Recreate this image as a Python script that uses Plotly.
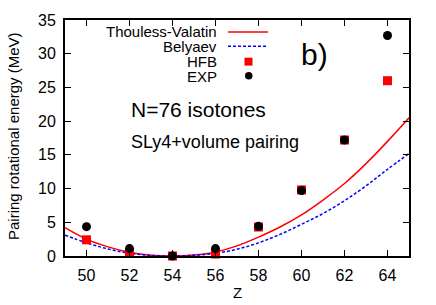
import plotly.graph_objects as go

# Data
z_curve = [49, 50, 51, 52, 53, 54, 55, 56, 57, 58, 59, 60, 61, 62, 63, 64, 65]
tv_vals = [4.2, 2.5, 1.35, 0.55, 0.12, 0.0, 0.15, 0.6, 1.5, 2.8, 4.3, 6.1, 8.3, 10.75, 13.7, 17.0, 20.5]
bel_vals = [3.1, 1.95, 1.05, 0.4, 0.08, 0.0, 0.1, 0.4, 1.0, 1.95, 3.2, 4.7, 6.3, 8.2, 10.4, 12.85, 15.2]

z_points = [50, 52, 54, 56, 58, 60, 62, 64]
hfb_vals = [2.4, 0.5, 0.0, 0.3, 4.3, 9.8, 17.2, 26.0]
exp_vals = [4.35, 1.1, 0.0, 1.1, 4.4, 9.7, 17.2, 32.7]

x_ticks = [50, 52, 54, 56, 58, 60, 62, 64]
y_ticks = [0, 5, 10, 15, 20, 25, 30, 35]

FONT = "Liberation Sans, Arial, sans-serif"

fig = go.Figure()
fig.add_trace(go.Scatter(x=z_curve, y=tv_vals, mode="lines", line=dict(color="#ff0000", width=1.5, shape="spline"),
                         name="Thouless-Valatin", showlegend=False))
fig.add_trace(go.Scatter(x=z_curve, y=bel_vals, mode="lines",
                         line=dict(color="#0000ff", width=1.5, dash="3px,2px", shape="spline"),
                         name="Belyaev", showlegend=False))
fig.add_trace(go.Scatter(x=z_points, y=hfb_vals, mode="markers", cliponaxis=False,
                         marker=dict(symbol="square", color="#ff0000", size=9), name="HFB", showlegend=False))
fig.add_trace(go.Scatter(x=z_points, y=exp_vals, mode="markers", cliponaxis=False,
                         marker=dict(symbol="circle", color="#000000", size=9), name="EXP", showlegend=False))

# Plot area in window pixels: x 65..409, y 18..256 (body margin removed below)
W, H = 436, 305
PL, PT, PW, PH = 65, 18, 344, 238
L, T = PL, PT
R, B = W - L - PW, H - T - PH

def ax(x):
    return (x - PL) / PW

def ay(y):
    return 1 - (y - PT) / PH

# Manual gnuplot-style legend (text right-aligned, sample to the right)
legend_rows = [("Thouless-Valatin", 29.5), ("Belyaev", 44.5), ("HFB", 59.5), ("EXP", 74.5)]
for text, yy in legend_rows:
    fig.add_annotation(x=ax(219), y=ay(yy), xref="paper", yref="paper", text=text, showarrow=False,
                       xanchor="right", yanchor="middle", font=dict(family=FONT, size=15, color="black"))
fig.add_shape(type="line", xref="paper", yref="paper", x0=ax(228), x1=ax(268), y0=ay(30), y1=ay(30),
              line=dict(color="#ff0000", width=1.5))
fig.add_shape(type="line", xref="paper", yref="paper", x0=ax(228), x1=ax(268), y0=ay(44.5), y1=ay(44.5),
              line=dict(color="#0000ff", width=1.5, dash="3px,2px"))
fig.add_shape(type="rect", xref="paper", yref="paper", x0=ax(244.5), x1=ax(252.5), y0=ay(64), y1=ay(56),
              line=dict(width=0), fillcolor="#ff0000")
fig.add_shape(type="circle", xref="paper", yref="paper", x0=ax(245), x1=ax(252.5), y0=ay(78), y1=ay(70.5),
              line=dict(width=0), fillcolor="#000000")

fig.add_annotation(x=ax(314), y=ay(53), xref="paper", yref="paper", text="b)", showarrow=False,
                   xanchor="center", yanchor="middle", font=dict(family=FONT, size=30, color="black"))
fig.add_annotation(x=ax(129), y=ay(108), xref="paper", yref="paper", text="N=76 isotones", showarrow=False,
                   xanchor="left", yanchor="middle", font=dict(family=FONT, size=21, color="black"))
fig.add_annotation(x=ax(129), y=ay(141), xref="paper", yref="paper", text="SLy4+volume pairing", showarrow=False,
                   xanchor="left", yanchor="middle", font=dict(family=FONT, size=18, color="black"))

# Axis titles
fig.add_annotation(x=ax(13), y=ay(135), xref="paper", yref="paper", text="Pairing rotational energy (MeV)",
                   showarrow=False, textangle=-90, xanchor="center", yanchor="middle",
                   font=dict(family=FONT, size=15, color="black"))
fig.add_annotation(x=ax(237), y=ay(293), xref="paper", yref="paper", text="Z",
                   showarrow=False, xanchor="center", yanchor="middle",
                   font=dict(family=FONT, size=15, color="black"))

axis_common = dict(showline=True, linecolor="black", linewidth=2, mirror="ticks", ticks="inside",
                   ticklen=6, tickwidth=1, tickcolor="black", showgrid=False, zeroline=False,
                   tickfont=dict(family=FONT, size=16, color="black"), ticklabelstandoff=4)
fig.update_xaxes(range=[49, 65], tickvals=x_ticks, ticktext=[str(v) for v in x_ticks], **axis_common)
fig.update_yaxes(range=[0, 35], tickvals=y_ticks, ticktext=[str(v) for v in y_ticks], **axis_common)

fig.update_layout(width=W, height=H, margin=dict(l=L, r=R, t=T, b=B, pad=0),
                  paper_bgcolor="white", plot_bgcolor="white", showlegend=False,
                  font=dict(family=FONT, color="black"))
fig.write_html("out.html", config={"displayModeBar": False},
               post_script="document.body.style.margin='0';document.body.style.overflow='hidden';")
